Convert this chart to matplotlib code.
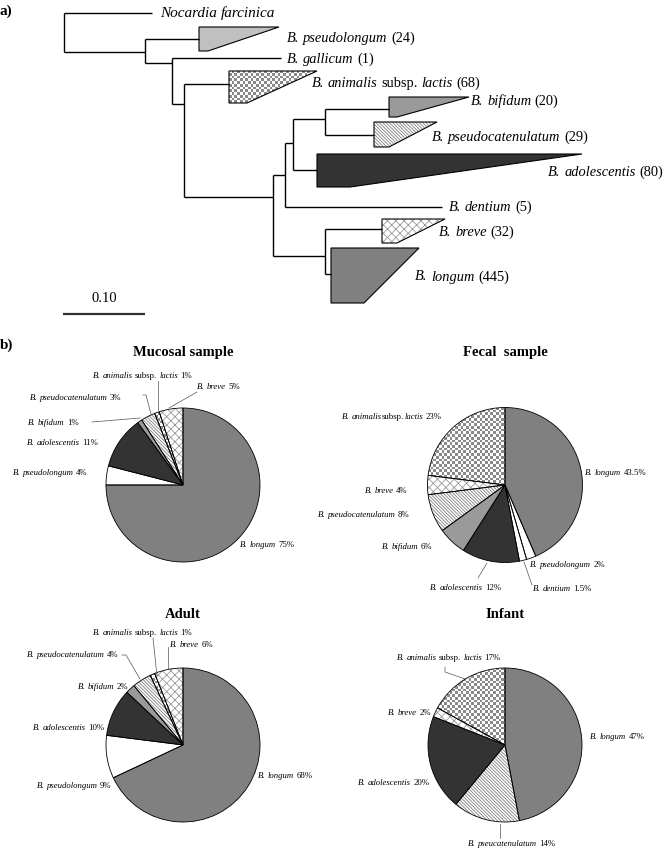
import numpy as np
import matplotlib
matplotlib.use('Agg')
import matplotlib.pyplot as plt
from matplotlib.patches import Polygon
from matplotlib.colors import ListedColormap

plt.rcParams['font.family'] = 'Liberation Serif'
plt.rcParams['hatch.linewidth'] = 0.6

# ---- data ----
# a) collapsed clades of the tree and number of sequences in each
tree_taxa = ['Nocardia farcinica', 'B. pseudolongum', 'B. gallicum', 'B. animalis subsp. lactis',
             'B. bifidum', 'B. pseudocatenulatum', 'B. adolescentis', 'B. dentium', 'B. breve', 'B. longum']
tree_counts = [None, 24, 1, 68, 20, 29, 80, 5, 32, 445]
scale_value = 0.10

# b) pie charts (percent of clones), clockwise from 12 o'clock
mucosal_species = ['B. longum', 'B. pseudolongum', 'B. adolescentis', 'B. bifidum',
                   'B. pseudocatenulatum', 'B. animalis subsp. lactis', 'B. breve']
mucosal_pct = [75, 4, 11, 1, 3, 1, 5]

fecal_species = ['B. longum', 'B. pseudolongum', 'B. dentium', 'B. adolescentis', 'B. bifidum',
                 'B. pseudocatenulatum', 'B. breve', 'B. animalis subsp.lactis']
fecal_pct = [43.5, 2, 1.5, 12, 6, 8, 4, 23]

adult_species = ['B. longum', 'B. pseudolongum', 'B. adolescentis', 'B. bifidum',
                 'B. pseudocatenulatum', 'B. animalis subsp. lactis', 'B. breve']
adult_pct = [68, 9, 10, 2, 4, 1, 6]

infant_species = ['B. longum', 'B. pseucatenulatum', 'B. adolescentis', 'B. breve',
                  'B. animalis subsp. lactis']
infant_pct = [47, 14, 20, 2, 17]


# ---- styles ----
def style_of(name):
    if 'pseudolongum' in name:
        return dict(fc='white')
    if 'longum' in name:
        return dict(fc='#808080')
    if 'adolescentis' in name:
        return dict(fc='#333333')
    if 'bifidum' in name:
        return dict(fc='#9a9a9a')
    if 'caten' in name:
        return dict(fc='white', hatch='\\' * 10, hc='#808080')
    if 'animalis' in name:
        return dict(fc='none', checker=True)
    if 'breve' in name:
        return dict(fc='white', hatch='xxxx', hc='#9a9a9a')
    return dict(fc='white')


fig = plt.figure(figsize=(6.64, 8.49), dpi=100)
ax = fig.add_axes([0, 0, 1, 1])
renderer = fig.canvas.get_renderer()
checker_cmap = ListedColormap(['white', '#8a8a8a'])


def tokens_of(name):
    # species words italic, 'subsp.' roman
    toks = []
    for w in name.split(' '):
        if w.startswith('subsp.'):
            toks.append(('subsp.', False, w == 'subsp.'))
            if w != 'subsp.':
                toks.append((w[len('subsp.'):], True, False))
        else:
            toks.append((w, True, True))
    return toks


def rich_text(x, y, toks, fontsize, ha='left'):
    space = ax.text(0, 0, 'a a', fontsize=fontsize)
    w2 = ax.text(0, 0, 'aa', fontsize=fontsize)
    sp = space.get_window_extent(renderer).width - w2.get_window_extent(renderer).width
    space.remove(); w2.remove()
    arts, widths = [], []
    for s, it, gap in toks:
        t = ax.text(0, y, s, fontsize=fontsize, style='italic' if it else 'normal',
                    ha='left', va='center', zorder=5)
        arts.append(t)
        widths.append(t.get_window_extent(renderer).width)
    total = sum(widths) + sp * sum(1 for k in toks[1:] if k[2])
    cur = x - total if ha == 'right' else x
    for i, (t, wd) in enumerate(zip(arts, widths)):
        if i > 0 and toks[i][2]:
            cur += sp
        t.set_x(cur)
        cur += wd


def checker_fill(patch, x0, x1, y0, y1, cell=2.7):
    nx = int((x1 - x0) / cell) + 2
    ny = int((y1 - y0) / cell) + 2
    arr = np.add.outer(np.arange(ny), np.arange(nx)) % 2
    im = ax.imshow(arr, cmap=checker_cmap, extent=(x0, x0 + nx * cell, y0 + ny * cell, y0),
                   interpolation='nearest', zorder=1.5)
    im.set_clip_path(patch)


# ---- a) tree ----
LW = 1.0


def hline(x0, x1, y):
    ax.plot([x0, x1], [y, y], color='black', lw=LW, solid_capstyle='butt', zorder=2)


def vline(x, y0, y1):
    ax.plot([x, x], [y0, y1], color='black', lw=LW, solid_capstyle='butt', zorder=2)


vline(64, 13, 52); hline(64, 152, 13); hline(64, 145, 52)
vline(145, 39, 63); hline(145, 199, 39); hline(145, 172, 63)
vline(172, 58, 104); hline(172, 281, 58); hline(172, 184, 104)
vline(184, 84, 197); hline(184, 229, 84); hline(184, 273, 197)
vline(273, 175, 256); hline(273, 285, 175); hline(273, 325, 256)
vline(285, 143, 207); hline(285, 293, 143); hline(285, 442, 207)
vline(293, 119, 170); hline(293, 325, 119); hline(293, 317, 170)
vline(325, 109, 135); hline(325, 389, 109); hline(325, 374, 135)
vline(325, 229, 274); hline(325, 382, 229); hline(325, 331, 274)

# collapsed clade shapes: left x, top y, bottom y, tip x, bottom-right x
clade_shapes = {
    'B. pseudolongum': (199, 27, 51, 279, 208),
    'B. animalis subsp. lactis': (229, 71, 103, 317, 247),
    'B. bifidum': (389, 97, 117, 469, 397),
    'B. pseudocatenulatum': (374, 122, 147, 437, 389),
    'B. adolescentis': (317, 154, 187, 582, 350),
    'B. breve': (382, 219, 243, 445, 397),
    'B. longum': (331, 248, 303, 419, 364),
}
label_pos = {
    'Nocardia farcinica': (160, 13, 'left'),
    'B. pseudolongum': (287, 38, 'left'),
    'B. gallicum': (287, 59, 'left'),
    'B. animalis subsp. lactis': (312, 83, 'left'),
    'B. bifidum': (471, 101, 'left'),
    'B. pseudocatenulatum': (432, 137, 'left'),
    'B. adolescentis': (663, 172, 'right'),
    'B. dentium': (449, 207, 'left'),
    'B. breve': (439, 232, 'left'),
    'B. longum': (415, 277, 'left'),
}

for name, n in zip(tree_taxa, tree_counts):
    if name in clade_shapes:
        xl, yt, yb, xr, xb = clade_shapes[name]
        pts = [(xl, yt), (xr, yt), (xb, yb), (xl, yb)]
        st = style_of(name)
        fc = st['fc']
        if name == 'B. pseudolongum':
            fc = '#c0c0c0'
        if st.get('hatch'):
            ax.add_patch(Polygon(pts, closed=True, fc=fc, ec=st['hc'], lw=0,
                                 hatch=st['hatch'], zorder=1))
        else:
            poly = Polygon(pts, closed=True, fc=fc, lw=0, zorder=1)
            ax.add_patch(poly)
            if st.get('checker'):
                checker_fill(poly, xl, xr, yt, yb)
        ax.add_patch(Polygon(pts, closed=True, fill=False, ec='black', lw=0.8, zorder=3))
    x, y, ha = label_pos[name]
    toks = tokens_of(name)
    if n is not None:
        toks.append((f'({n})', False, True))
    rich_text(x, y, toks, 11 if n is None else 10.4, ha=ha)

# scale bar
ax.plot([63, 145], [314, 314], color='#333333', lw=1.6, solid_capstyle='butt')
ax.text(104, 298, f'{scale_value:.2f}', fontsize=10.5, ha='center', va='center')

ax.text(0, 11, 'a)', fontsize=11, fontweight='bold', ha='left', va='center')
ax.text(0, 345, 'b)', fontsize=11, fontweight='bold', ha='left', va='center')

# ---- b) pies ----
pies = [
    dict(title='Mucosal sample', species=mucosal_species, pct=mucosal_pct, c=(183, 485), r=77, ty=352,
         labels={
             'B. longum': (240, 545), 'B. pseudolongum': (13, 473), 'B. adolescentis': (27, 443),
             'B. bifidum': (28, 423), 'B. pseudocatenulatum': (30, 398),
             'B. animalis subsp. lactis': (93, 376), 'B. breve': (197, 387)},
         leaders=[[(92, 422), (140, 418)], [(143, 395), (146, 395), (151, 414)],
                  [(158, 381), (158, 410)], [(197, 392), (169, 408)]]),
    dict(title='Fecal  sample', species=fecal_species, pct=fecal_pct, c=(505, 485), r=77.5, ty=352,
         labels={
             'B. longum': (585, 473), 'B. pseudolongum': (530, 565), 'B. dentium': (533, 589),
             'B. adolescentis': (430, 588), 'B. bifidum': (382, 547),
             'B. pseudocatenulatum': (318, 515), 'B. breve': (365, 491),
             'B. animalis subsp.lactis': (342, 417)},
         leaders=[[(478, 578), (487, 563)], [(532, 585), (524, 562)]]),
    dict(title='Adult', species=adult_species, pct=adult_pct, c=(183, 745), r=77, ty=615,
         labels={
             'B. longum': (258, 776), 'B. pseudolongum': (37, 786), 'B. adolescentis': (33, 728),
             'B. bifidum': (78, 687), 'B. pseudocatenulatum': (27, 655),
             'B. animalis subsp. lactis': (93, 633), 'B. breve': (170, 645)},
         leaders=[[(153, 638), (157, 676)], [(168, 647), (168, 669)],
                  [(122, 655), (126, 655), (140, 679)]]),
    dict(title='Infant', species=infant_species, pct=infant_pct, c=(505, 745), r=77, ty=615,
         labels={
             'B. longum': (590, 737), 'B. pseucatenulatum': (468, 844), 'B. adolescentis': (358, 783),
             'B. breve': (388, 713), 'B. animalis subsp. lactis': (397, 658)},
         leaders=[[(445, 667), (445, 672), (465, 679)], [(500, 824), (500, 838)]]),
]

for p in pies:
    cx, cy = p['c']
    r = p['r']
    styles = [style_of(s) for s in p['species']]
    wedges, _ = ax.pie(p['pct'], center=(cx, cy), radius=r, startangle=-90, counterclock=True,
                       colors=[s['fc'] for s in styles], wedgeprops=dict(lw=0))
    for w, st in zip(wedges, styles):
        w.set_zorder(1)
        if st.get('hatch'):
            w.set_edgecolor(st['hc'])
            w.set_linewidth(0)
            w.set_hatch(st['hatch'])
        if st.get('checker'):
            checker_fill(w, cx - r, cx + r, cy - r, cy + r)
    outl, _ = ax.pie(p['pct'], center=(cx, cy), radius=r, startangle=-90, counterclock=True,
                     wedgeprops=dict(fill=False, edgecolor='black', lw=0.6))
    for w in outl:
        w.set_zorder(3)
    for s, v in zip(p['species'], p['pct']):
        x, y = p['labels'][s]
        rich_text(x, y, tokens_of(s) + [(f'{v:g}%', False, True)], 6.3)
    for ld in p['leaders']:
        xs, ys = zip(*ld)
        ax.plot(xs, ys, color='#555555', lw=0.5, zorder=4)
    ax.text(cx, p['ty'], p['title'], fontsize=10.5, fontweight='bold', ha='center', va='center')

ax.set_xlim(0, 664)
ax.set_ylim(849, 0)
ax.set_aspect('auto')
ax.axis('off')

fig.savefig('out.png', dpi=100)
